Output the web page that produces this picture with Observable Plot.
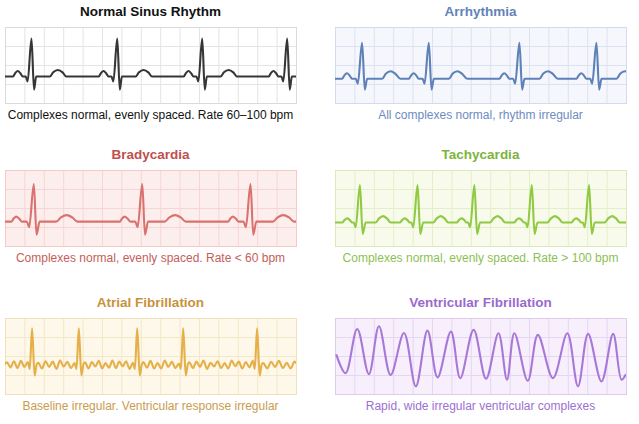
<!DOCTYPE html>
<html><head><meta charset="utf-8">
<script src="https://cdn.jsdelivr.net/npm/d3@7"></script>
<script src="https://cdn.jsdelivr.net/npm/@observablehq/plot@0.6"></script>
<style>
body{margin:0;background:#fff;font-family:"Liberation Sans",Arial,Helvetica,sans-serif;}
#root{position:relative;width:639px;height:424px;overflow:hidden}
.panel{position:absolute;width:293px}
.panel svg{position:absolute;left:0}
.title{position:absolute;left:-20px;width:333px;text-align:center;font-weight:bold;font-size:13.5px;line-height:15px;white-space:nowrap}
.sub{position:absolute;left:-20px;width:333px;text-align:center;font-size:12px;line-height:14px;white-space:nowrap}
</style></head><body><div id="root"></div>
<script>
// ---- text ----
const titles = ["Normal Sinus Rhythm","Arrhythmia","Bradycardia","Tachycardia","Atrial Fibrillation","Ventricular Fibrillation"];
const subtitles = ["Complexes normal, evenly spaced. Rate 60\u2013100 bpm","All complexes normal, rhythm irregular","Complexes normal, evenly spaced. Rate < 60 bpm","Complexes normal, evenly spaced. Rate > 100 bpm","Baseline irregular. Ventricular response irregular","Rapid, wide irregular ventricular complexes"];

// ---- R-peak times (grid units, 15 per strip) ----
const nsrBeats = [1.34, 5.76, 10.14, 14.52];
const arrBeats = [1.37, 4.81, 9.48, 13.45];
const bradyBeats = [1.46, 7.05, 12.63];
const tachyBeats = [1.26, 4.23, 7.16, 10.12, 13.07];
const afBeats = [1.37, 3.78, 6.79, 9.16, 12.97];

// ---- baselines (grid units above strip bottom) ----
const baselines = [1.42, 1.3, 1.31, 1.26, 1.55];

// ---- beat shapes: [offset from R, height above baseline] ----
const nsrBeat = [[-0.95,0],[-0.85,0.17],[-0.71,0.29],[-0.57,0.17],[-0.45,0],[-0.3,0],[-0.2,-0.26],[0,2.0],[0.13,-0.69],[0.24,0],[0.95,0],[1.12,0.22],[1.36,0.34],[1.6,0.22],[1.79,0]];
const arrBeat = [[-1.03,0],[-0.92,0.17],[-0.78,0.29],[-0.64,0.17],[-0.52,0],[-0.32,0],[-0.22,-0.26],[0,1.9],[0.14,-0.57],[0.26,0],[1.03,0],[1.22,0.26],[1.47,0.4],[1.72,0.26],[1.98,0]];
const bradyBeat = [[-1.16,0],[-1.04,0.16],[-0.91,0.26],[-0.76,0.16],[-0.62,0],[-0.36,0],[-0.24,-0.29],[0,1.98],[0.14,-0.69],[0.3,0],[1.15,0],[1.4,0.22],[1.7,0.34],[1.98,0.22],[2.25,0],[2.3,0]];
const tachyBeat = [[-0.91,0],[-0.79,0.14],[-0.66,0.22],[-0.53,0.14],[-0.4,0],[-0.32,0],[-0.22,-0.24],[0,1.98],[0.14,-0.6],[0.29,0],[0.81,0],[0.99,0.22],[1.19,0.34],[1.39,0.22],[1.59,0]];
const afBeat = [[-0.12,-0.2],[0,1.93],[0.13,-0.55],[0.24,0.05]];

// ---- atrial fibrillation baseline wiggles, one list per gap between complexes ----
const afWaves = [
  [0.0,0.14,-0.12,0.2,-0.16,0.22,-0.1,0.16],
  [0.12,-0.18,0.2,-0.1,0.18,-0.2,0.24,-0.08,0.17,-0.16,0.1],
  [0.14,-0.18,0.16,-0.08,0.22,-0.17,0.1,-0.14,0.24,-0.16,0.18,-0.06,0.2,-0.2,0.12],
  [0.16,-0.14,0.22,-0.18,0.1,-0.18,0.24,-0.1,0.17,-0.16,0.08],
  [0.14,-0.16,0.18,-0.1,0.24,-0.2,0.12,-0.08,0.2,-0.16,0.1,-0.18,0.24,-0.06,0.18,-0.18,0.16,-0.12,0.22],
  [0.1,-0.18,0.17,-0.1,0.22,-0.16,0.12,-0.18,0.18,-0.08]
];

// ---- ventricular fibrillation: turning points [t, level] ----
const vfPoints = [[0.05,2.07],[0.52,1.12],[1.12,3.45],[1.72,1.07],[2.24,3.59],[2.84,1.03],[3.53,3.24],[4.14,0.43],[4.74,3.36],[5.26,0.9],[5.95,3.31],[6.43,0.86],[7.12,3.4],[7.76,0.83],[8.4,3.22],[8.84,0.78],[9.22,3.22],[9.91,0.72],[10.43,3.14],[11.21,0.86],[11.95,3.22],[12.5,0.43],[13.02,3.19],[13.71,0.69],[14.31,3.19],[14.74,0.78],[14.95,1.03]];

// ---- colours ----
const lineColors = ["#363636","#5e81b7","#d9726e","#8fca42","#e5b04a","#a878d6"];
const bgColors = ["#ffffff","#f5f7fd","#fdeeee","#f8fbeb","#fdf8ea","#f7f0fc"];
const gridColors = ["#e4e4e4","#dce2f1","#f6d6d4","#e3efc9","#f4e7c8","#e5d6f3"];
const frameColors = ["#dadada","#d3dbee","#f2cbc8","#dbe9bd","#f0e0bb","#dccbee"];
const titleColors = ["#111111","#6283b8","#c0504d","#7db43c","#c8923b","#9a69cf"];
const subColors = ["#111111","#6d8bbf","#c45e5a","#8dbf52","#c99c4e","#9c70d1"];

// ---- layout ----
const lefts = [4, 334];
const tops = [26, 169, 317];
const W = 293, H = 78;

function sinus(beats, shape, base) {
  const pts = [{t: -1, v: base}];
  for (const r of beats) for (const [dx, dy] of shape) pts.push({t: r + dx, v: base + dy});
  pts.push({t: 16, v: base});
  return pts.sort((a, b) => a.t - b.t);
}
function afib(beats, shape, waves, base) {
  const pts = [];
  const edges = [-0.1, ...beats.flatMap(r => [r - 0.22, r + 0.32]), 15.1];
  for (let g = 0; g < waves.length; g++) {
    const a = edges[2 * g], b = edges[2 * g + 1], w = waves[g];
    w.forEach((d, i) => pts.push({t: a + (b - a) * i / (w.length - 1), v: base + d}));
    if (g < beats.length) for (const [dx, dy] of shape) pts.push({t: beats[g] + dx, v: base + dy});
  }
  return pts.sort((a, b) => a.t - b.t);
}

const series = [
  sinus(nsrBeats, nsrBeat, baselines[0]),
  sinus(arrBeats, arrBeat, baselines[1]),
  sinus(bradyBeats, bradyBeat, baselines[2]),
  sinus(tachyBeats, tachyBeat, baselines[3]),
  afib(afBeats, afBeat, afWaves, baselines[4]),
  vfPoints.map(([t, v]) => ({t, v}))
];

const root = document.getElementById("root");
series.forEach((data, i) => {
  const col = i % 2, row = Math.floor(i / 2);
  const panel = document.createElement("div");
  panel.className = "panel";
  panel.style.left = lefts[col] + "px";
  panel.style.top = (tops[row] - 22) + "px";
  const t = document.createElement("div");
  t.className = "title"; t.textContent = titles[i]; t.style.color = titleColors[i]; t.style.top = "0px";
  panel.appendChild(t);
  const chart = Plot.plot({
    width: W, height: H, margin: 1,
    x: {domain: [0, 15], axis: null},
    y: {domain: [0, 4], axis: null},
    marks: [
      Plot.frame({fill: bgColors[i]}),
      Plot.ruleX(d3.range(1, 15), {stroke: gridColors[i], strokeWidth: 1}),
      Plot.ruleY(d3.range(1, 4), {stroke: gridColors[i], strokeWidth: 1}),
      Plot.frame({stroke: frameColors[i]}),
      Plot.line(data, {x: "t", y: "v", stroke: lineColors[i], strokeWidth: 2.1, curve: i === 5 ? "catmull-rom" : "monotone-x", clip: true})
    ]
  });
  chart.style.top = "22px";
  panel.appendChild(chart);
  const s = document.createElement("div");
  s.className = "sub"; s.textContent = subtitles[i]; s.style.color = subColors[i]; s.style.top = (22 + H + 4) + "px";
  panel.appendChild(s);
  root.appendChild(panel);
});
</script></body></html>
